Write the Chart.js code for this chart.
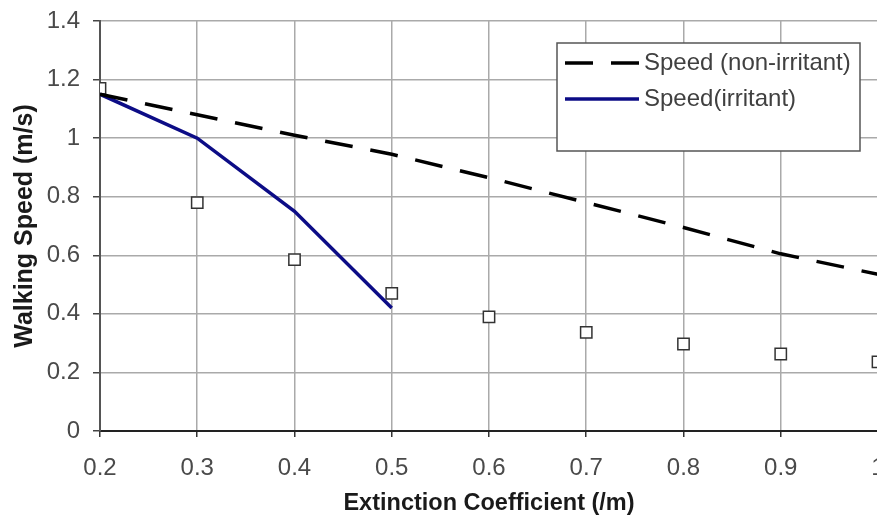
<!DOCTYPE html>
<html>
<head>
<meta charset="utf-8">
<script src="https://cdn.jsdelivr.net/npm/chart.js@4.4.0/dist/chart.umd.min.js"></script>
<style>
  html, body { margin: 0; padding: 0; background: #fff; overflow: hidden; }
  #wrap { width: 900px; height: 526px; position: relative; }
</style>
</head>
<body>
<div id="wrap"><canvas id="chart"></canvas></div>
<script>
// --- DATA ---
const xValues = [0.2, 0.3, 0.4, 0.5, 0.6, 0.7, 0.8, 0.9, 1.0];
const xTickLabels = ['0.2', '0.3', '0.4', '0.5', '0.6', '0.7', '0.8', '0.9', '1'];
const yTickLabels = ['0', '0.2', '0.4', '0.6', '0.8', '1', '1.2', '1.4'];
const speedNonIrritant = [1.15, 1.08, 1.01, 0.945, 0.865, 0.78, 0.695, 0.605, 0.535];
const speedIrritant = [1.15, 1.0, 0.75, 0.42];
const measuredSpeed = [1.17, 0.78, 0.585, 0.47, 0.39, 0.337, 0.297, 0.263, 0.236];

const toPoints = (vals) => vals.map((v, i) => ({ x: xValues[i], y: v }));

// legend drawn inside the plot, boxed, like the original spreadsheet chart
const boxLegend = {
    id: 'boxLegend',
    afterDraw(chart) {
        const { ctx, chartArea } = chart;
        const left = chartArea.right - 321;
        const top = chartArea.top + 22;
        const w = 303, h = 108;
        ctx.save();
        ctx.fillStyle = '#fff';
        ctx.fillRect(left, top, w, h);
        ctx.strokeStyle = '#555';
        ctx.lineWidth = 1.5;
        ctx.strokeRect(left, top, w, h);

        const rows = chart.data.datasets.slice(0, 2);
        rows.forEach((ds, i) => {
            const y = top + 20 + i * 36;
            ctx.beginPath();
            ctx.strokeStyle = ds.borderColor;
            ctx.lineWidth = ds.borderWidth;
            ctx.setLineDash(ds.borderDash || []);
            ctx.moveTo(left + 8, y);
            ctx.lineTo(left + 82, y);
            ctx.stroke();
            ctx.setLineDash([]);
            ctx.fillStyle = '#404040';
            ctx.font = '24px Arial, "Liberation Sans", sans-serif';
            ctx.textBaseline = 'middle';
            ctx.fillText(ds.label, left + 87, y);
        });
        ctx.restore();
    }
};

const tickFont = { family: 'Arial, "Liberation Sans", sans-serif', size: 24 };
const titleFont = { family: 'Arial, "Liberation Sans", sans-serif', size: 25, weight: 'bold' };

// fixed axis boxes so the plot area lands where the original's does
const fitX = (scale) => {
    scale.height = 95;
    scale.paddingLeft = 0;
    scale.paddingRight = 0;
};
const fitY = (scale) => {
    scale.width = 100;
    scale.paddingTop = 0;
    scale.paddingBottom = 0;
};

new Chart(document.getElementById('chart'), {
    type: 'line',
    data: {
        datasets: [
            {
                label: 'Speed (non-irritant)',
                data: toPoints(speedNonIrritant),
                borderColor: '#000',
                borderWidth: 3.5,
                borderDash: [28, 18],
                pointRadius: 0,
                tension: 0
            },
            {
                label: 'Speed(irritant)',
                data: toPoints(speedIrritant),
                borderColor: '#0c0c86',
                borderWidth: 3.5,
                pointRadius: 0,
                tension: 0
            },
            {
                label: 'Measured',
                data: toPoints(measuredSpeed),
                showLine: false,
                pointStyle: 'rect',
                pointRadius: 8,
                pointBorderWidth: 1.5,
                pointBorderColor: '#333',
                pointBackgroundColor: '#fff'
            }
        ]
    },
    options: {
        responsive: true,
        maintainAspectRatio: false,
        animation: false,
        layout: { padding: { top: 21, right: 22, left: 0, bottom: 0 } },
        plugins: { legend: { display: false }, tooltip: { enabled: false } },
        scales: {
            x: {
                type: 'linear',
                min: 0.2,
                max: 1.0,
                afterFit: fitX,
                ticks: {
                    stepSize: 0.1,
                    color: '#4a4a4a',
                    font: tickFont,
                    padding: 17,
                    maxRotation: 0,
                    callback: (v, i) => xTickLabels[i]
                },
                grid: { color: '#aaa', lineWidth: 1.5, tickLength: 6, tickColor: '#333' },
                border: { color: '#222', width: 2 },
                title: {
                    display: true,
                    text: 'Extinction Coefficient (/m)',
                    color: '#1a1a1a',
                    font: { ...titleFont, size: 23.5 },
                    padding: { top: 0, bottom: 8 }
                }
            },
            y: {
                min: 0,
                max: 1.4,
                afterFit: fitY,
                ticks: {
                    stepSize: 0.2,
                    color: '#4a4a4a',
                    font: tickFont,
                    padding: 13,
                    callback: (v, i) => yTickLabels[i]
                },
                grid: { color: '#aaa', lineWidth: 1.5, tickLength: 7, tickColor: '#444' },
                border: { color: '#555', width: 2 },
                title: {
                    display: true,
                    text: 'Walking Speed (m/s)',
                    color: '#1a1a1a',
                    font: titleFont,
                    padding: { top: 10, bottom: 0 }
                }
            }
        }
    },
    plugins: [boxLegend]
});
</script>
</body>
</html>
